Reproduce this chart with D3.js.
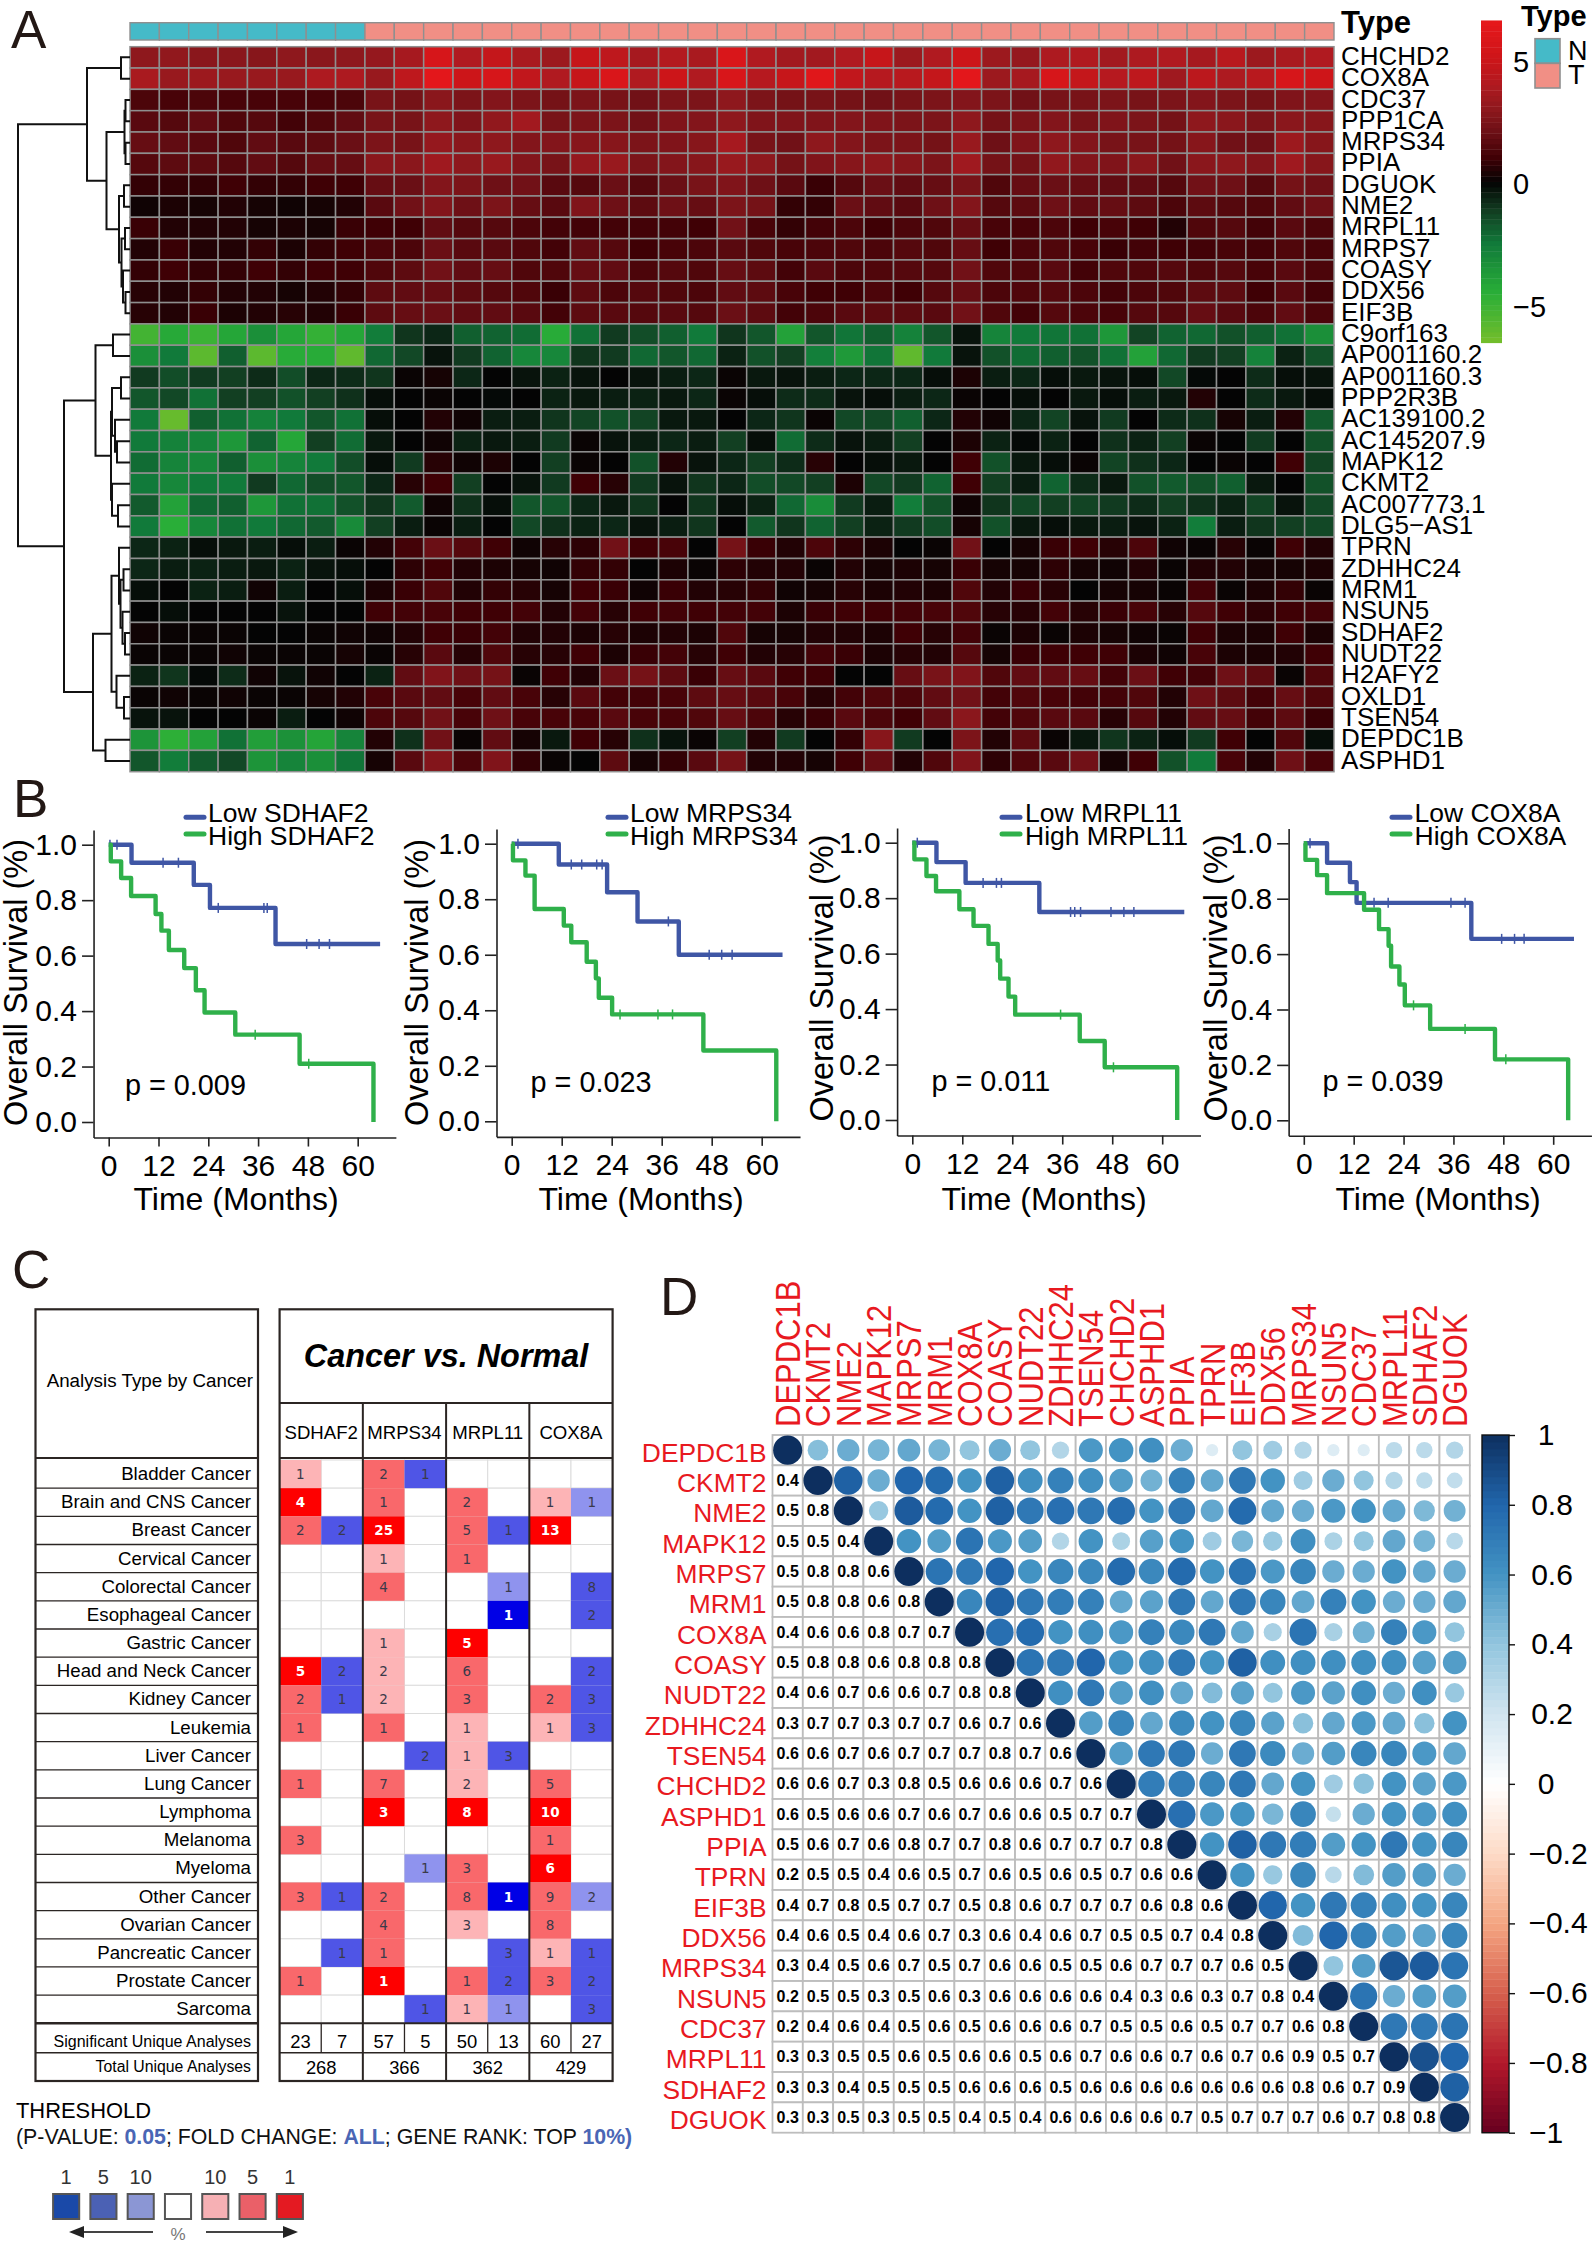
<!DOCTYPE html>
<html>
<head>
<meta charset="utf-8">
<script src="https://cdn.jsdelivr.net/npm/d3@7"></script>
<style>
  body { margin: 0; background: #fff; }
  svg { display: block; font-family: "Liberation Sans", Arial, sans-serif; }
</style>
</head>
<body>
<svg width="1593" height="2244"></svg>
<script>
// ---- Panel A: heatmap values (8 N columns, then 33 T columns) ----
const heatGenes = ["CHCHD2","COX8A","CDC37","PPP1CA","MRPS34","PPIA","DGUOK","NME2","MRPL11","MRPS7","COASY","DDX56","EIF3B","C9orf163","AP001160.2","AP001160.3","PPP2R3B","AC139100.2","AC145207.9","MAPK12","CKMT2","AC007773.1","DLG5\u2212AS1","TPRN","ZDHHC24","MRM1","NSUN5","SDHAF2","NUDT22","H2AFY2","OXLD1","TSEN54","DEPDC1B","ASPHD1"];
const heatTypes = "NNNNNNNNTTTTTTTTTTTTTTTTTTTTTTTTTTTTTTTTT".split("");
const heatValues = [
[3.0,3.1,2.9,2.9,2.8,3.0,2.9,3.0,3.2,3.7,5.6,4.0,4.7,3.8,3.4,4.8,4.5,3.7,4.1,3.8,5.8,4.0,3.6,3.6,4.0,4.8,3.4,4.0,5.0,3.4,3.2,3.9,4.0,3.6,3.9,4.0,3.7,4.3,3.4,3.8,4.0],
[3.8,3.3,3.4,3.3,3.3,3.3,3.9,3.9,3.3,4.5,6.4,5.0,5.6,4.6,4.0,4.8,5.8,4.0,5.0,4.0,5.7,4.2,4.8,6.2,4.6,4.2,4.3,4.7,6.4,3.4,3.7,5.6,4.7,4.2,4.5,3.5,4.4,3.9,4.3,5.6,5.1],
[1.3,1.2,1.3,1.2,1.2,1.2,1.2,1.3,2.4,2.3,2.9,2.5,2.7,2.5,2.3,2.5,2.4,2.2,2.5,2.5,3.0,2.5,2.3,2.4,2.3,2.2,2.4,2.5,2.7,2.5,2.2,2.4,2.4,2.5,2.4,2.5,2.7,2.5,2.3,2.6,2.7],
[1.6,1.5,1.8,1.4,1.5,1.1,1.4,1.8,2.4,2.4,3.0,2.6,3.1,3.6,2.4,2.5,2.5,2.2,2.6,2.7,3.0,2.6,2.6,2.6,2.7,2.6,2.5,2.5,3.0,2.3,2.5,2.7,2.4,2.6,2.5,2.3,3.0,2.9,2.5,2.9,2.8],
[1.9,1.8,1.6,1.4,1.8,1.6,1.7,2.0,2.5,2.4,3.2,2.9,3.0,2.7,2.7,2.8,2.8,2.5,2.6,2.8,3.7,2.4,2.2,3.0,2.7,2.5,2.5,2.3,3.3,2.1,2.6,3.0,2.7,2.4,2.4,2.3,2.8,2.2,2.1,3.4,2.8],
[1.5,1.7,1.7,1.5,1.8,1.5,1.9,1.9,2.9,2.9,3.5,3.0,3.3,2.7,2.4,3.2,3.3,2.5,2.7,2.8,3.3,3.0,2.3,2.6,2.8,3.0,2.8,2.5,3.5,2.3,2.3,3.1,2.7,2.6,2.9,2.2,2.9,3.0,2.7,3.5,2.8],
[0.8,0.8,0.8,1.0,0.8,0.8,1.0,1.0,1.9,2.0,2.7,2.5,2.1,2.2,1.6,1.5,2.0,1.5,2.0,2.4,2.6,2.1,1.6,0.9,1.5,2.0,1.8,1.9,2.4,1.4,1.9,2.0,1.9,1.8,1.8,1.5,2.2,2.1,1.5,2.3,2.1],
[0.2,0.4,0.3,0.5,0.3,0.2,0.3,0.5,1.6,2.2,2.7,2.1,2.5,1.9,1.6,2.6,2.1,1.7,2.1,1.9,2.5,2.3,0.8,0.8,2.0,1.8,1.6,2.1,2.7,1.5,1.7,2.1,1.8,1.9,1.7,1.3,1.7,1.5,1.4,1.8,2.1],
[0.9,0.5,0.5,0.5,0.3,0.4,0.3,0.9,1.0,1.0,1.8,1.5,1.5,1.3,1.1,1.1,1.1,1.1,1.1,1.0,2.2,1.2,0.8,1.1,1.3,1.0,1.3,1.4,1.9,1.2,1.2,1.3,1.0,1.2,1.0,0.5,1.4,1.5,1.1,1.6,1.3],
[0.5,0.9,0.5,0.5,0.8,0.4,0.8,1.0,1.3,1.3,2.0,1.6,1.6,1.4,1.1,1.8,1.5,1.0,1.2,1.3,1.6,1.4,1.2,1.3,1.4,1.3,1.5,1.4,1.9,1.0,1.3,1.4,1.2,0.9,1.1,1.0,1.1,1.2,1.1,1.4,1.2],
[0.8,1.0,0.8,0.8,1.0,0.8,1.0,1.0,1.4,1.7,2.2,1.8,1.9,1.4,1.4,1.9,1.8,1.3,1.5,1.4,1.9,1.7,1.1,1.6,1.3,1.4,1.5,1.5,2.2,1.4,1.4,1.6,1.1,1.4,1.4,1.5,1.4,1.5,1.2,1.6,1.3],
[0.6,0.5,0.8,0.5,0.5,0.3,0.5,0.8,1.7,1.8,1.9,1.7,1.5,1.4,0.9,1.7,1.3,1.5,1.4,1.3,1.8,1.7,1.2,1.0,1.0,1.3,1.0,1.5,1.9,1.3,1.4,1.5,1.3,1.1,1.3,1.4,1.7,1.7,1.0,1.6,1.1],
[0.6,0.5,0.9,0.4,0.5,0.6,0.5,0.9,1.7,1.9,2.0,1.8,1.8,1.6,1.1,1.7,1.6,1.5,1.6,1.5,2.0,1.7,1.1,1.3,1.6,1.7,1.7,1.6,2.2,1.4,1.1,1.5,1.3,1.2,1.5,1.5,1.9,1.6,1.3,1.8,1.3],
[-5.2,-4.3,-5.0,-4.2,-3.3,-4.2,-4.8,-4.2,-2.6,-1.0,-0.7,-1.9,-2.0,-2.2,-4.4,-2.3,-1.1,-1.5,-1.9,-2.5,-1.0,-1.7,-4.0,-1.7,-2.4,-1.9,-2.8,-1.7,-0.3,-2.9,-2.5,-2.4,-2.3,-3.6,-1.3,-2.0,-2.1,-1.6,-1.9,-2.3,-3.3],
[-3.3,-2.5,-5.9,-1.9,-5.9,-4.4,-4.4,-6.0,-2.1,-1.4,-0.3,-1.1,-2.0,-3.0,-3.0,-1.0,-1.1,-2.1,-1.7,-2.1,-0.6,-1.6,-1.2,-2.7,-3.7,-2.4,-6.0,-2.5,-0.3,-1.6,-2.2,-1.9,-1.6,-2.3,-4.0,-2.1,-1.1,-1.2,-2.8,-0.6,-1.6],
[-1.1,-1.5,-1.1,-1.2,-0.8,-1.5,-0.7,-0.8,-1.0,0.1,0.3,-0.7,0.0,-0.3,-0.6,-0.3,0.0,-0.3,-0.5,-0.7,0.1,-0.4,-0.3,-0.5,-0.7,-0.7,-0.7,-0.2,0.4,-0.5,-0.7,-0.2,-0.4,-0.3,-0.2,-1.4,-0.1,0.0,-0.8,-0.2,-0.3],
[-1.7,-1.4,-2.3,-1.2,-1.2,-1.6,-1.2,-0.9,-0.2,0.0,0.1,0.0,-0.1,0.0,-0.6,-0.4,-0.5,-0.6,-0.4,-0.7,0.1,-0.2,-0.8,-0.8,-0.3,-0.2,-0.5,-0.7,0.1,0.0,-0.2,0.0,-0.4,-0.2,-0.5,-0.4,0.5,0.0,-0.8,-0.4,-0.2],
[-2.5,-6.2,-1.9,-2.3,-2.8,-2.5,-1.7,-2.3,-0.2,0.0,0.5,0.2,-0.5,-0.5,-1.0,-1.3,-1.6,-1.3,-0.4,-0.4,0.0,-0.7,-1.0,0.1,-1.4,-1.4,-1.9,-0.7,0.5,0.2,-0.7,-1.3,-0.3,-1.1,0.0,-0.8,-0.9,0.3,-0.5,0.5,-1.8],
[-2.5,-2.8,-2.9,-3.6,-2.0,-4.2,-1.2,-2.2,-0.4,0.0,0.2,-0.6,-0.4,-0.5,-1.1,0.1,-0.3,-0.5,-0.7,-0.5,-1.2,-0.2,-2.2,-0.8,-0.3,-0.5,-1.2,0.0,0.4,-0.6,-0.1,-0.6,0.0,-0.9,-0.6,-1.2,0.1,0.0,-1.1,0.0,-1.6],
[-2.2,-2.9,-3.0,-1.9,-3.3,-2.9,-2.5,-1.5,-0.2,-1.1,0.6,0.2,0.4,0.0,-1.2,0.1,0.0,-1.6,0.5,-0.3,-0.7,-1.2,-0.8,0.6,0.0,-0.2,-0.4,0.0,1.0,-1.6,-0.4,-0.2,0.1,-1.3,-0.9,-0.7,0.0,0.1,0.0,1.0,-1.3],
[-2.5,-3.0,-2.5,-2.5,-1.1,-2.1,-1.5,-1.7,-0.7,0.6,1.0,-1.2,0.0,-0.3,-1.1,1.0,0.6,-1.1,-0.3,-1.0,-0.7,-1.5,-1.4,-1.2,0.4,-1.4,-1.1,-2.0,1.0,-1.2,-0.5,-2.0,-0.8,-0.4,-1.6,-1.8,-1.6,-1.9,-0.4,0.0,-1.6],
[-1.8,-4.0,-2.1,-1.9,-3.6,-2.3,-2.3,-1.6,-1.0,-1.8,0.2,-0.9,-0.2,-1.7,-1.7,-0.7,-0.4,-1.0,0.0,-1.0,-0.2,-0.6,-2.1,-3.2,-1.1,-0.5,-2.6,-1.6,0.2,-1.0,-1.4,-1.2,-1.3,-1.1,-0.8,-1.2,-0.9,-0.6,-1.3,-0.3,-1.4],
[-2.5,-4.5,-3.0,-2.3,-2.5,-2.1,-1.8,-3.1,-1.2,-0.5,0.1,-0.5,0.0,-1.4,-0.9,-0.6,-0.7,-0.3,-0.5,-1.0,0.0,-1.8,-1.0,-2.0,-1.2,-0.6,-1.1,-1.5,0.3,-1.6,-0.4,-0.2,-0.4,-0.5,-0.3,-0.6,-2.6,-0.5,-1.0,-1.2,-1.4],
[-0.7,-0.6,-0.2,-0.4,-0.5,-0.2,-0.5,0.1,0.5,1.1,2.0,1.5,1.0,0.2,0.6,0.7,2.2,1.0,1.2,0.0,2.3,0.9,0.5,1.3,0.7,0.4,0.0,0.1,2.2,0.0,0.3,0.9,1.0,0.6,1.3,0.2,0.1,0.6,0.1,1.0,0.5],
[-0.7,-0.5,-0.6,-0.5,-0.4,-0.6,-0.3,-0.2,0.0,0.7,1.0,0.5,0.4,0.3,0.2,0.8,0.8,0.0,0.4,0.1,0.7,0.5,0.5,0.1,0.5,0.3,0.4,0.3,0.9,0.3,0.3,0.7,0.3,0.2,0.5,0.1,0.5,0.5,0.3,0.3,0.4],
[-0.2,0.0,-0.6,-0.5,0.2,-0.5,0.0,-0.2,0.4,0.9,1.4,0.5,0.8,0.6,0.3,1.0,0.9,0.2,0.9,0.5,0.6,0.8,0.2,0.3,0.6,0.4,0.5,0.4,1.4,0.5,0.9,0.6,0.0,0.3,0.3,0.1,1.1,0.1,0.4,0.8,0.1],
[0.0,-0.2,0.0,0.0,0.0,-0.3,0.0,0.0,1.0,1.1,1.2,1.0,1.0,1.1,0.5,1.1,0.6,1.0,1.1,1.0,1.1,1.1,0.4,0.9,1.0,1.0,1.1,1.2,1.4,0.6,0.6,1.1,0.6,0.9,1.2,0.6,1.5,1.0,0.7,1.0,1.1],
[0.2,0.1,0.1,0.1,0.0,0.0,0.1,0.2,0.2,0.5,1.0,0.9,1.1,0.5,0.5,0.4,0.6,0.4,0.5,0.4,1.4,0.3,0.3,0.5,0.5,0.4,1.0,0.6,1.1,0.1,0.4,0.1,0.4,0.3,0.2,0.1,1.0,0.4,0.4,1.0,0.4],
[0.1,0.1,0.1,0.2,0.1,0.1,0.1,0.3,0.1,0.6,1.6,0.6,1.4,0.6,0.6,1.0,0.4,0.9,1.1,0.6,1.0,0.5,0.6,1.1,0.9,0.4,0.6,0.5,1.5,0.3,0.9,1.0,1.0,1.0,0.4,0.2,1.2,0.4,0.4,0.5,1.0],
[-0.6,-1.0,-0.1,-0.8,0.2,-0.3,0.2,0.0,-0.6,1.8,2.6,2.1,2.3,0.1,1.0,0.5,2.0,2.3,1.7,0.9,1.9,1.6,1.0,1.0,0.0,0.0,1.9,2.4,2.6,1.4,1.8,1.8,1.9,1.1,2.0,1.0,1.1,2.1,1.7,0.1,1.4],
[0.1,0.2,0.1,0.2,0.1,0.1,0.3,0.5,1.2,1.6,1.8,1.2,1.8,1.2,0.6,1.6,1.1,1.1,1.2,1.7,1.9,1.6,1.2,0.6,1.1,1.4,1.3,1.8,2.2,1.1,1.4,1.2,1.1,1.1,1.4,0.5,2.1,1.7,1.1,1.9,1.4],
[-0.3,-0.3,0.0,0.0,0.1,-0.5,0.0,0.2,1.3,1.5,2.2,1.2,2.1,1.2,1.2,1.2,1.6,1.2,1.2,1.4,1.9,1.3,0.6,0.9,1.6,1.3,1.0,1.8,2.9,1.1,1.4,1.6,1.6,0.6,1.5,0.5,1.8,1.9,1.1,1.7,0.9],
[-3.5,-4.6,-4.0,-2.3,-3.9,-3.4,-4.1,-2.9,0.5,-0.9,2.2,0.1,1.8,0.3,-0.4,1.0,0.6,-0.9,-0.3,0.1,-1.2,0.5,-1.1,0.0,0.8,2.8,-1.1,0.0,2.5,0.5,1.7,0.1,-0.4,-1.0,-0.6,-0.2,-1.1,1.0,0.0,1.4,-0.2],
[-1.7,-2.6,-1.8,-1.4,-3.5,-2.9,-3.3,-2.4,0.3,1.6,2.7,1.3,2.6,0.8,0.1,0.0,1.7,0.3,0.8,1.6,2.3,0.5,0.5,0.3,1.0,1.9,0.5,1.4,2.6,0.7,1.4,1.6,2.2,0.3,1.0,-1.6,-2.5,1.2,0.5,2.1,1.2]
];
// dendrogram merges: [height, left, right], leaves are row numbers of heatGenes
const heatTree = [112,
  [43, [9, 0, 1],
    [23.5,
      [5.5, [4.5, 2, 3], [4.5, 4, 5]],
      [11, [6, 6, 7], [8.5, [5, 8, 9], [7, 10, [4.5, 11, 12]]]]]],
  [66,
    [34.5, [17, 13, 14],
      [19,
        [18, [9, 15, 16], [15, 17, [13, 18, 19]]],
        [18, 20, [12, 21, 22]]]],
    [37,
      [18.5,
        [11, 23, [9.5, [6.5, 24, 25], [7.5, 26, [5, 27, 28]]]],
        [13.5, 29, [6, 30, 31]]],
      [24.5, 32, 33]]]];

// ---- Panel B: Kaplan-Meier steps (months at each step, survival from there on) ----
const survGenes = ["SDHAF2", "MRPS34", "MRPL11", "COX8A"];
const survP = ["p = 0.009", "p = 0.023", "p = 0.011", "p = 0.039"];
const survTicksX = [0, 12, 24, 36, 48, 60];
const survTicksY = [0, 0.2, 0.4, 0.6, 0.8, 1];

const lowSdhaf2T = [0, 5.5, 20.5, 24.4, 40.2, 65.4];
const lowSdhaf2S = [1, 0.935, 0.855, 0.772, 0.642, 0.642];
const lowSdhaf2C = [0.3, 2, 13.1, 16.8, 26.4, 37.4, 38.2, 47.7, 50.7, 53.2];
const highSdhaf2T = [0, 0.5, 3, 5.4, 11.3, 12.7, 14.5, 18.2, 21, 23.1, 30.5, 46, 63.8, 63.8];
const highSdhaf2S = [1, 0.94, 0.88, 0.815, 0.75, 0.69, 0.62, 0.555, 0.475, 0.395, 0.315, 0.21, 0.21, 0];
const highSdhaf2C = [35.3, 48.2];

const lowMrps34T = [0, 11.3, 22.9, 30.2, 40.1, 65];
const lowMrps34S = [1, 0.925, 0.825, 0.72, 0.6, 0.6];
const lowMrps34C = [1.5, 14.3, 16.8, 20.4, 21.7, 37.6, 47.4, 50.4, 52.9];
const highMrps34T = [0, 0.3, 3.3, 5.5, 12.5, 14.3, 18, 20.2, 20.9, 24.1, 46, 63.5, 63.5];
const highMrps34S = [1, 0.94, 0.885, 0.765, 0.705, 0.645, 0.575, 0.515, 0.445, 0.385, 0.255, 0.255, 0];
const highMrps34C = [26, 35.1, 38.6];

const lowMrpl11T = [0, 5.8, 12.8, 30.5, 65.3];
const lowMrpl11S = [1, 0.93, 0.855, 0.75, 0.75];
const lowMrpl11C = [1.2, 17, 20.2, 21.4, 38, 39, 40.4, 47.7, 50.8, 53.2];
const highMrpl11T = [0, 0.5, 3.4, 5.7, 11.3, 14.7, 18.3, 20.5, 21.1, 23.1, 24.7, 40.2, 46.2, 63.6, 63.6];
const highMrpl11S = [1, 0.94, 0.88, 0.825, 0.76, 0.7, 0.635, 0.575, 0.51, 0.445, 0.38, 0.285, 0.19, 0.19, 0];
const highMrpl11C = [35.6, 48.3];

const lowCox8aT = [0, 5.6, 11.1, 12.7, 40.3, 65];
const lowCox8aS = [1, 0.93, 0.86, 0.785, 0.655, 0.655];
const lowCox8aC = [1.5, 16.9, 20.3, 35.4, 38.8, 47.6, 50.7, 53];
const highCox8aT = [0, 0.4, 3.2, 5.6, 14.5, 18.1, 20.4, 21, 23, 24.3, 30.4, 46, 63.6, 63.6];
const highCox8aS = [1, 0.94, 0.885, 0.82, 0.76, 0.69, 0.63, 0.555, 0.49, 0.415, 0.33, 0.22, 0.22, 0];
const highCox8aC = [26.4, 38.8, 48.6];

// ---- Panel C: Oncomine table, pairs of columns per gene (up, down) ----
const oncoCancers = ["Bladder Cancer","Brain and CNS Cancer","Breast Cancer","Cervical Cancer","Colorectal Cancer","Esophageal Cancer","Gastric Cancer","Head and Neck Cancer","Kidney Cancer","Leukemia","Liver Cancer","Lung Cancer","Lymphoma","Melanoma","Myeloma","Other Cancer","Ovarian Cancer","Pancreatic Cancer","Prostate Cancer","Sarcoma"];
const oncoCounts = [
[1,0,2,1,0,0,0,0],[4,0,1,0,2,0,1,1],[2,2,25,0,5,1,13,0],[0,0,1,0,1,0,0,0],[0,0,4,0,0,1,0,8],
[0,0,0,0,0,1,0,2],[0,0,1,0,5,0,0,0],[5,2,2,0,6,0,0,2],[2,1,2,0,3,0,2,3],[1,0,1,0,1,0,1,3],
[0,0,0,2,1,3,0,0],[1,0,7,0,2,0,5,0],[0,0,3,0,8,0,10,0],[3,0,0,0,0,0,1,0],[0,0,0,1,3,0,6,0],
[3,1,2,0,8,1,9,2],[0,0,4,0,3,0,8,0],[0,1,1,0,0,3,1,1],[1,0,1,0,1,2,3,2],[0,0,0,1,1,1,0,3]];
const oncoRanks = [
[10,0,5,5,0,0,0,0],[1,0,5,0,5,0,10,10],[5,5,1,0,5,5,1,0],[0,0,10,0,5,0,0,0],[0,0,5,0,0,10,0,5],
[0,0,0,0,0,1,0,5],[0,0,10,0,1,0,0,0],[1,5,10,0,5,0,0,5],[5,5,10,0,5,0,5,5],[5,0,5,0,10,0,10,5],
[0,0,0,5,10,5,0,0],[5,0,5,0,10,0,5,0],[0,0,1,0,1,0,1,0],[5,0,0,0,0,0,5,0],[0,0,0,10,5,0,1,0],
[5,5,5,0,5,1,5,10],[0,0,5,0,10,0,5,0],[0,5,5,0,0,5,10,5],[5,0,1,0,5,5,5,5],[0,0,0,5,10,10,0,5]];
const oncoSignificant = [23, 7, 57, 5, 50, 13, 60, 27];
const oncoTotals = [268, 366, 362, 429];
const oncoLegendLabels = ["1", "5", "10", "", "10", "5", "1"];

// ---- Panel D: correlation matrix ----
const corrGenes = ["DEPDC1B","CKMT2","NME2","MAPK12","MRPS7","MRM1","COX8A","COASY","NUDT22","ZDHHC24","TSEN54","CHCHD2","ASPHD1","PPIA","TPRN","EIF3B","DDX56","MRPS34","NSUN5","CDC37","MRPL11","SDHAF2","DGUOK"];
// printed numbers below the diagonal
const corrLower = [
[],
[.4],
[.5,.8],
[.5,.5,.4],
[.5,.8,.8,.6],
[.5,.8,.8,.6,.8],
[.4,.6,.6,.8,.7,.7],
[.5,.8,.8,.6,.8,.8,.8],
[.4,.6,.7,.6,.6,.7,.8,.8],
[.3,.7,.7,.3,.7,.7,.6,.7,.6],
[.6,.6,.7,.6,.7,.7,.7,.8,.7,.6],
[.6,.6,.7,.3,.8,.5,.6,.6,.6,.7,.6],
[.6,.5,.6,.6,.7,.6,.7,.6,.6,.5,.7,.7],
[.5,.6,.7,.6,.8,.7,.7,.8,.6,.7,.7,.7,.8],
[.2,.5,.5,.4,.6,.5,.7,.6,.5,.6,.5,.7,.6,.6],
[.4,.7,.8,.5,.7,.7,.5,.8,.6,.7,.7,.7,.6,.8,.6],
[.4,.6,.5,.4,.6,.7,.3,.6,.4,.6,.7,.5,.5,.7,.4,.8],
[.3,.4,.5,.6,.7,.5,.7,.6,.6,.5,.5,.6,.7,.7,.7,.6,.5],
[.2,.5,.5,.3,.5,.6,.3,.6,.6,.6,.6,.4,.3,.6,.3,.7,.8,.4],
[.2,.4,.6,.4,.5,.6,.5,.6,.6,.6,.7,.5,.5,.6,.5,.7,.7,.6,.8],
[.3,.3,.5,.5,.6,.5,.6,.6,.5,.6,.7,.6,.6,.7,.6,.7,.6,.9,.5,.7],
[.3,.3,.4,.5,.5,.5,.6,.6,.6,.5,.6,.6,.6,.6,.6,.6,.6,.8,.6,.7,.9],
[.3,.3,.5,.3,.5,.5,.4,.5,.4,.6,.6,.6,.6,.7,.5,.7,.7,.7,.6,.7,.8,.8]];
// circle values above the diagonal, one list per row, starting right of the diagonal
const corrUpper = [
[.43,.50,.47,.52,.47,.40,.50,.40,.30,.58,.60,.62,.50,.15,.40,.36,.30,.15,.15,.27,.27,.30],
[.82,.50,.80,.78,.60,.82,.62,.68,.62,.56,.48,.68,.52,.72,.60,.36,.50,.40,.30,.27,.25],
[.38,.84,.78,.60,.82,.72,.76,.72,.77,.60,.72,.52,.78,.52,.50,.58,.60,.52,.45,.48],
[.60,.56,.74,.58,.56,.30,.60,.32,.55,.60,.36,.46,.38,.62,.32,.40,.52,.47,.28],
[.74,.72,.80,.60,.66,.65,.78,.65,.78,.60,.74,.58,.66,.50,.50,.60,.52,.50],
[.66,.82,.72,.70,.68,.52,.54,.72,.52,.72,.66,.52,.68,.60,.50,.50,.52],
[.76,.78,.60,.62,.58,.68,.65,.72,.52,.33,.74,.33,.48,.68,.58,.40],
[.74,.72,.80,.60,.62,.72,.60,.82,.62,.62,.62,.62,.62,.55,.56],
[.62,.72,.56,.62,.52,.44,.54,.40,.58,.54,.62,.50,.62,.38],
[.56,.66,.52,.64,.60,.66,.54,.42,.52,.58,.52,.42,.60],
[.56,.72,.72,.50,.72,.64,.50,.56,.66,.66,.58,.52],
[.70,.70,.66,.72,.52,.60,.36,.42,.60,.54,.58],
[.76,.58,.60,.46,.66,.24,.50,.60,.58,.62],
[.60,.82,.72,.70,.56,.60,.72,.60,.66],
[.60,.38,.66,.28,.44,.56,.56,.50],
[.80,.60,.72,.68,.62,.60,.66],
[.44,.80,.68,.56,.54,.66],
[.40,.56,.86,.84,.74],
[.74,.50,.56,.56],
[.72,.72,.74],
[.88,.80],
[.82],
[]];
const corrTicks = [-1, -0.8, -0.6, -0.4, -0.2, 0, 0.2, 0.4, 0.6, 0.8, 1];

// ---- Drawing ----
const svg = d3.select("svg");

function panelLetter(text, x, y) {
  svg.append("text").attr("x", x).attr("y", y).attr("font-size", 53).attr("fill", "#231815").text(text);
}
panelLetter("A", 11, 48);
panelLetter("B", 13, 817);
panelLetter("C", 12, 1288);
panelLetter("D", 660, 1315);

// Panel A
function drawHeatmap() {
  const colX = d3.scaleBand().domain(d3.range(heatTypes.length)).range([130, 1334]);
  const rowY = d3.scaleBand().domain(heatGenes).range([46.7, 771.7]);
  const color = d3.scaleLinear()
    .domain([-6.5, -4.5, -2.5, -1.2, 0, 1, 2, 3, 4, 5, 6.7])
    .range(["#72bd2b", "#29ae38", "#117a3a", "#123f22", "#040404", "#3f0005", "#6a0f15", "#8e181d", "#b01a20", "#cc1519", "#e8181b"]);
  const typeColor = d3.scaleOrdinal().domain(["N", "T"]).range(["#45bac8", "#f18f85"]);
  const g = svg.append("g");

  g.selectAll(".anno").data(heatTypes).enter().append("rect")
    .attr("x", (d, i) => colX(i)).attr("y", 22.7)
    .attr("width", colX.bandwidth()).attr("height", 17.3)
    .attr("fill", d => typeColor(d)).attr("stroke", "#8f8f8f").attr("stroke-width", 1.4);

  const rows = g.selectAll(".row").data(heatValues).enter().append("g");
  rows.selectAll("rect").data(d => d).enter().append("rect")
    .attr("x", (d, i) => colX(i))
    .attr("width", colX.bandwidth())
    .attr("height", rowY.bandwidth())
    .attr("fill", d => color(d))
    .attr("stroke", "#8f8f8f").attr("stroke-width", 1.5);
  rows.attr("transform", (d, i) => "translate(0," + rowY(heatGenes[i]) + ")");

  g.selectAll(".gene").data(heatGenes).enter().append("text")
    .attr("x", 1341)
    .attr("y", d => rowY(d) + rowY.bandwidth() / 2 + 7.5)
    .attr("font-size", 26).text(d => d);
  g.append("text").attr("x", 1341).attr("y", 33).attr("font-size", 31).attr("font-weight", "bold").text("Type");

  // dendrogram
  const heightX = d3.scaleLinear().domain([0, 112]).range([130, 18]);
  const root = d3.hierarchy(heatTree, d => (Array.isArray(d) ? d.slice(1) : null));
  root.eachAfter(n => {
    if (n.children) {
      n.py = d3.mean(n.children, c => c.py);
      n.px = heightX(n.data[0]);
    } else {
      n.py = rowY(heatGenes[n.data]) + rowY.bandwidth() / 2;
      n.px = heightX(0);
    }
  });
  g.selectAll(".link").data(root.descendants().filter(n => n.children)).enter().append("path")
    .attr("fill", "none").attr("stroke", "#111").attr("stroke-width", 2)
    .attr("d", n => {
      const a = n.children[0], b = n.children[1];
      return "M" + a.px + "," + a.py + "H" + n.px + "V" + b.py + "H" + b.px;
    });

  // colour bar
  const barY = d3.scaleLinear().domain([6.73, -6.46]).range([20.7, 342.7]);
  const steps = d3.range(-6.46, 6.73, 0.22);
  g.selectAll(".bar").data(steps).enter().append("rect")
    .attr("x", 1481).attr("width", 21)
    .attr("y", d => barY(d + 0.22)).attr("height", barY(0) - barY(0.22) + 0.4)
    .attr("fill", d => color(d));
  g.selectAll(".barTick").data([5, 0, -5]).enter().append("text")
    .attr("x", 1513).attr("y", d => barY(d) + 9.5).attr("font-size", 29)
    .text(d => d3.format("d")(d));

  // type legend
  g.append("text").attr("x", 1521).attr("y", 26).attr("font-size", 29).attr("font-weight", "bold").text("Type");
  const legY = d3.scaleBand().domain(["N", "T"]).range([38.7, 88]);
  g.selectAll(".leg").data(legY.domain()).enter().append("rect")
    .attr("x", 1535).attr("width", 25).attr("y", d => legY(d)).attr("height", legY.bandwidth())
    .attr("fill", d => typeColor(d)).attr("stroke", "#8f8f8f").attr("stroke-width", 1.6);
  g.selectAll(".legT").data(legY.domain()).enter().append("text")
    .attr("x", 1568).attr("y", d => legY(d) + 21).attr("font-size", 27).text(d => d);
}
drawHeatmap();

// Panel B
const survData = [
  { low: [lowSdhaf2T, lowSdhaf2S, lowSdhaf2C], high: [highSdhaf2T, highSdhaf2S, highSdhaf2C] },
  { low: [lowMrps34T, lowMrps34S, lowMrps34C], high: [highMrps34T, highMrps34S, highMrps34C] },
  { low: [lowMrpl11T, lowMrpl11S, lowMrpl11C], high: [highMrpl11T, highMrpl11S, highMrpl11C] },
  { low: [lowCox8aT, lowCox8aS, lowCox8aC], high: [highCox8aT, highCox8aS, highCox8aC] }
];
const survLayout = [
  { x0: 108.7, x60: 357.7, y0: 1122, y1: 844.7, title: 236, yTitle: 27, yMid: 982.5, line: 186, text: 208, pX: 125, pY: 1095 },
  { x0: 511.7, x60: 761.7, y0: 1121.3, y1: 843.7, title: 641, yTitle: 427.5, yMid: 982.5, line: 608, text: 630, pX: 530.6, pY: 1091.7 },
  { x0: 912.3, x60: 1162.2, y0: 1120, y1: 842.7, title: 1044, yTitle: 833, yMid: 978, line: 1002, text: 1025, pX: 931.5, pY: 1090.7 },
  { x0: 1303.8, x60: 1553.2, y0: 1120.3, y1: 843.3, title: 1438, yTitle: 1227, yMid: 978, line: 1392, text: 1414.6, pX: 1322.5, pY: 1090.7 }
];

function drawSurvival(i) {
  const L = survLayout[i];
  const pxPerMonth = (L.x60 - L.x0) / 60, pxPerUnit = L.y0 - L.y1;
  const x = d3.scaleLinear().domain([-3.65, 69.2]).range([L.x0 - 3.65 * pxPerMonth, L.x0 + 69.2 * pxPerMonth]);
  const y = d3.scaleLinear().domain([-0.056, 1.053]).range([L.y0 + 0.056 * pxPerUnit, L.y0 - 1.053 * pxPerUnit]);
  const g = svg.append("g");

  const axisB = d3.axisBottom(x).tickValues(survTicksX).tickSize(9).tickSizeOuter(0).tickPadding(8);
  const axisL = d3.axisLeft(y).tickValues(survTicksY).tickSize(11.5).tickSizeOuter(0).tickPadding(5).tickFormat(d3.format(".1f"));
  const ax = g.append("g").attr("transform", "translate(0," + y(-0.056) + ")").call(axisB);
  const ay = g.append("g").attr("transform", "translate(" + x(-3.65) + ",0)").call(axisL);
  [ax, ay].forEach(a => {
    a.selectAll("text").attr("font-size", 30).attr("font-family", "Liberation Sans").attr("fill", "#000");
    a.selectAll("path,line").attr("stroke", "#222").attr("stroke-width", 1.6);
  });

  const line = d3.line().curve(d3.curveStepAfter).x(d => x(d[0])).y(d => y(d[1]));
  [["low", "#3f56a5"], ["high", "#2fb04a"]].forEach(s => {
    const t = survData[i][s[0]][0], v = survData[i][s[0]][1], c = survData[i][s[0]][2];
    g.append("path").datum(d3.zip(t, v)).attr("fill", "none").attr("stroke", s[1])
      .attr("stroke-width", 4.4).attr("stroke-linejoin", "round").attr("d", line);
    g.selectAll(".c" + s[0]).data(c).enter().append("line")
      .attr("x1", d => x(d)).attr("x2", d => x(d))
      .attr("y1", d => y(v[d3.bisectRight(t, d) - 1]) - 5)
      .attr("y2", d => y(v[d3.bisectRight(t, d) - 1]) + 5)
      .attr("stroke", s[1]).attr("stroke-width", 1.5);
  });

  // legend
  [["Low ", "#3f56a5", 817.3, 821.5], ["High ", "#2fb04a", 834, 844.5]].forEach(s => {
    g.append("line").attr("x1", L.line).attr("x2", L.line + 18).attr("y1", s[2]).attr("y2", s[2])
      .attr("stroke", s[1]).attr("stroke-width", 5).attr("stroke-linecap", "round");
    g.append("text").attr("x", L.text).attr("y", s[3]).attr("font-size", 26.5).text(s[0] + survGenes[i]);
  });

  g.append("text").attr("x", L.pX).attr("y", L.pY).attr("font-size", 28.8).text(survP[i]);
  g.append("text").attr("x", L.title).attr("y", 1210).attr("text-anchor", "middle").attr("font-size", 32).text("Time (Months)");
  g.append("text").attr("transform", "translate(" + L.yTitle + "," + L.yMid + ") rotate(-90)")
    .attr("text-anchor", "middle").attr("font-size", 32.5).text("Overall Survival (%)");
}
d3.range(4).forEach(drawSurvival);

// Panel C
function drawOncomine() {
  const g = svg.append("g");
  const dark = "#2b2523";
  const colX = d3.scaleBand().domain(d3.range(8)).range([279.6, 612.6]);
  const rowY = d3.scaleBand().domain(oncoCancers).range([1460, 2023.3]);
  const upColor = d3.scaleOrdinal().domain([1, 5, 10]).range(["#fe0000", "#f9686b", "#fdb4b6"]);
  const downColor = d3.scaleOrdinal().domain([1, 5, 10]).range(["#0000e6", "#4f55e6", "#8f93ee"]);

  oncoCounts.forEach((row, r) => {
    row.forEach((count, c) => {
      g.append("rect").attr("x", colX(c)).attr("y", rowY(oncoCancers[r]))
        .attr("width", colX.bandwidth()).attr("height", rowY.bandwidth())
        .attr("fill", "#fff").attr("stroke", "#dcdcdc").attr("stroke-width", 1);
    });
  });
  // coloured cells on top of the pale grid
  oncoCounts.forEach((row, r) => {
    row.forEach((count, c) => {
      const rank = oncoRanks[r][c];
      if (rank === 0) return;
      g.append("rect").attr("x", colX(c)).attr("y", rowY(oncoCancers[r]))
        .attr("width", colX.bandwidth()).attr("height", rowY.bandwidth())
        .attr("fill", c % 2 === 0 ? upColor(rank) : downColor(rank));
      g.append("text").attr("x", colX(c) + colX.bandwidth() / 2).attr("y", rowY(oncoCancers[r]) + rowY.bandwidth() / 2 + 5)
        .attr("text-anchor", "middle").attr("font-family", "DejaVu Sans").attr("font-size", 13.5)
        .attr("font-weight", rank === 1 ? "bold" : "normal")
        .attr("fill", rank === 1 ? "#fff" : "#3a3a4a").text(count);
    });
  });

  function frame(x1, y1, x2, y2, w) {
    g.append("rect").attr("x", x1).attr("y", y1).attr("width", x2 - x1).attr("height", y2 - y1)
      .attr("fill", "none").attr("stroke", dark).attr("stroke-width", w);
  }
  function hline(x1, x2, yy, w) {
    g.append("line").attr("x1", x1).attr("x2", x2).attr("y1", yy).attr("y2", yy).attr("stroke", dark).attr("stroke-width", w);
  }
  function vline(xx, y1, y2, w) {
    g.append("line").attr("x1", xx).attr("x2", xx).attr("y1", y1).attr("y2", y2).attr("stroke", dark).attr("stroke-width", w);
  }
  function label(text, x, y, size, anchor) {
    return g.append("text").attr("x", x).attr("y", y).attr("font-size", size).attr("text-anchor", anchor || "start").text(text);
  }

  // left table
  frame(35.5, 1309.3, 258, 2081, 2.2);
  hline(35.5, 258, 1458, 2.2);
  oncoCancers.forEach(d => {
    hline(35.5, 258, rowY(d) + rowY.bandwidth(), 1.3);
    label(d, 251, rowY(d) + rowY.bandwidth() / 2 + 6, 18.7, "end");
  });
  hline(35.5, 258, 2023.3, 2.6);
  hline(35.5, 258, 2052.7, 1.6);
  label("Analysis Type by Cancer", 253, 1387, 18.8, "end");
  label("Significant Unique Analyses", 251, 2046.5, 16, "end");
  label("Total Unique Analyses", 251, 2072, 15.8, "end");

  // right table
  frame(279.6, 1309.3, 612.6, 2081, 2.2);
  hline(279.6, 612.6, 1403, 1.8);
  hline(279.6, 612.6, 1458, 2);
  hline(279.6, 612.6, 2023.3, 2);
  hline(279.6, 612.6, 2052.7, 1.6);
  d3.range(2, 8, 2).forEach(c => vline(colX(c), 1403, 2081, 2));
  d3.range(1, 8, 2).forEach(c => vline(colX(c), 2023.3, 2052.7, 1.3));
  label("Cancer vs. Normal", colX(4), 1366.7, 32.4, "middle").attr("font-weight", "bold").attr("font-style", "italic");
  survGenes.forEach((d, i) => {
    label(d, colX(i * 2 + 1), 1439, 18.6, "middle");
    label(oncoTotals[i], colX(i * 2 + 1), 2074, 18.4, "middle");
  });
  oncoSignificant.forEach((d, c) => label(d, colX(c) + colX.bandwidth() / 2, 2047.5, 18.4, "middle"));

  // threshold note
  label("THRESHOLD", 16, 2118, 21.9);
  const note = label("", 16, 2144, 21.3);
  [["(P-VALUE: ", 0], ["0.05", 1], ["; FOLD CHANGE: ", 0], ["ALL", 1], ["; GENE RANK: TOP ", 0], ["10%)", 1]].forEach(p => {
    note.append("tspan").attr("fill", p[1] ? "#4a66b5" : "#111").attr("font-weight", p[1] ? "bold" : "normal").text(p[0]);
  });

  // rank legend
  const legX = d3.scaleBand().domain(d3.range(7)).range([47.5, 308.5]).paddingInner(0.3).paddingOuter(0.15);
  const legColors = ["#1a49a8", "#4b61b4", "#8b96d4", "#fff", "#f6b0b4", "#ea6068", "#e41a22"];
  g.selectAll(".legBox").data(legColors).enter().append("rect")
    .attr("x", (d, i) => legX(i)).attr("y", 2194).attr("width", legX.bandwidth()).attr("height", 25)
    .attr("fill", d => d).attr("stroke", "#555").attr("stroke-width", 2);
  oncoLegendLabels.forEach((d, i) => label(d, legX(i) + legX.bandwidth() / 2, 2184, 20, "middle").attr("fill", "#333"));
  g.append("path").attr("d", "M153,2232H78").attr("stroke", "#444").attr("stroke-width", 2.2);
  g.append("path").attr("d", "M69,2232L84,2226V2238Z").attr("fill", "#222");
  g.append("path").attr("d", "M206,2232H288").attr("stroke", "#444").attr("stroke-width", 2.2);
  g.append("path").attr("d", "M298,2232L283,2226V2238Z").attr("fill", "#222");
  label("%", 178, 2240, 17, "middle").attr("fill", "#777");
}
drawOncomine();

// Panel D
function drawCorrelation() {
  const g = svg.append("g");
  const band = d3.scaleBand().domain(corrGenes);
  const x = band.copy().range([772.5, 1469.8]);
  const y = band.copy().range([1435, 2132.7]);
  const size = x.bandwidth();
  const color = d3.scaleLinear()
    .domain([-1, -0.8, -0.6, -0.4, -0.2, 0, 0.2, 0.4, 0.6, 0.8, 1])
    .range(["#67001F", "#B2182B", "#D6604D", "#F4A582", "#FDDBC7", "#FFFFFF", "#D1E5F0", "#92C5DE", "#4393C3", "#2166AC", "#0d2f5f"]);

  corrGenes.forEach(a => corrGenes.forEach(b => {
    g.append("rect").attr("x", x(b)).attr("y", y(a)).attr("width", size).attr("height", size)
      .attr("fill", "#fff").attr("stroke", "#bdbdbd").attr("stroke-width", 1.8);
  }));

  corrGenes.forEach((rowGene, r) => {
    const cy = y(rowGene) + size / 2;
    const circles = [[rowGene, 1]].concat(corrUpper[r].map((v, k) => [corrGenes[r + 1 + k], v]));
    circles.forEach(c => {
      g.append("circle").attr("cx", x(c[0]) + size / 2).attr("cy", cy)
        .attr("r", Math.min(0.48 * size, 0.52 * size * Math.sqrt(c[1]))).attr("fill", color(c[1]));
    });
    corrLower[r].forEach((v, k) => {
      g.append("text").attr("x", x(corrGenes[k]) + size / 2).attr("y", cy + 5.5)
        .attr("text-anchor", "middle").attr("font-size", 16).attr("font-weight", "bold").text(v.toFixed(1));
    });
    g.append("text").attr("x", 766.5).attr("y", cy + 11.5).attr("text-anchor", "end")
      .attr("font-size", 26.4).attr("fill", "#e8191f").text(rowGene);
    g.append("text").attr("transform", "translate(" + (x(rowGene) + size / 2 + 12.5) + ",1427) rotate(-90) scale(1,1.12)")
      .attr("font-size", 31).attr("fill", "#e8191f").text(rowGene);
  });

  // colour bar
  const barY = d3.scaleLinear().domain([1, -1]).range([1435, 2132.7]);
  const steps = d3.range(-1, 1, 0.02);
  g.selectAll(".bar").data(steps).enter().append("rect")
    .attr("x", 1482).attr("width", 27)
    .attr("y", d => barY(d + 0.02)).attr("height", barY(0) - barY(0.02) + 0.4)
    .attr("fill", d => color(d + 0.01));
  g.append("rect").attr("x", 1482).attr("y", 1435).attr("width", 27).attr("height", 697.7)
    .attr("fill", "none").attr("stroke", "#111").attr("stroke-width", 1.4);
  const axis = d3.axisRight(barY).tickValues(corrTicks).tickSize(6).tickSizeOuter(0)
    .tickFormat(d => (Number.isInteger(d) ? d3.format("d")(d) : d3.format(".1f")(d)));
  const a = g.append("g").attr("transform", "translate(1509,0)").call(axis);
  a.select(".domain").remove();
  a.selectAll("line").attr("stroke", "#111").attr("stroke-width", 1.4);
  a.selectAll("text").attr("font-size", 30).attr("font-family", "Liberation Sans").attr("fill", "#000")
    .attr("text-anchor", "middle")
    .attr("x", d => (Number.isInteger(d) ? 37 : (d < 0 ? 49 : 43)));
}
drawCorrelation();
</script>
</body>
</html>
